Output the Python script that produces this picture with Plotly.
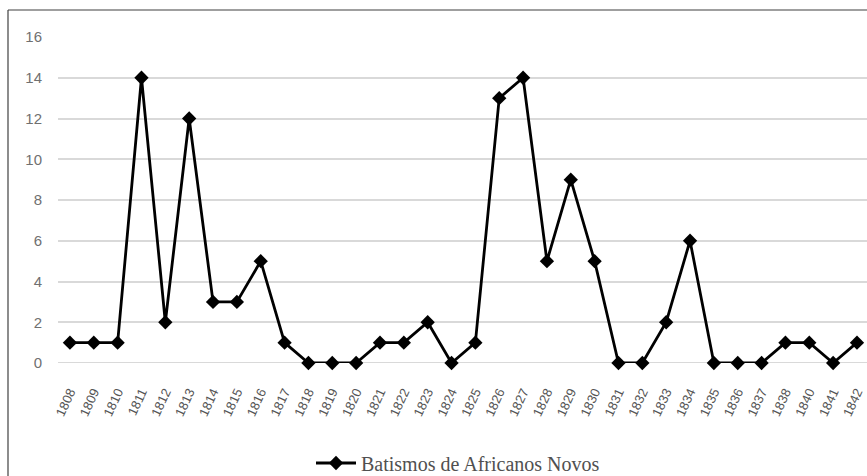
import plotly.graph_objects as go

years = ["1808","1809","1810","1811","1812","1813","1814","1815","1816","1817",
         "1818","1819","1820","1821","1822","1823","1824","1825","1826","1827",
         "1828","1829","1830","1831","1832","1833","1834","1835","1836","1837",
         "1838","1840","1841","1842"]
batismos = [1,1,1,14,2,12,3,3,5,1,
            0,0,0,1,1,2,0,1,13,14,
            5,9,5,0,0,2,6,0,0,0,
            1,1,0,1]
y_ticks = [0,2,4,6,8,10,12,14,16]
series_name = "Batismos de Africanos Novos"

W, H = 867, 476
L, T, B = 58, 37, 113
plot_w = W - L
plot_h = H - T - B

fig = go.Figure()
fig.add_trace(go.Scatter(
    x=list(range(len(years))), y=batismos, mode="lines+markers", name=series_name,
    line=dict(color="black", width=2.8),
    marker=dict(symbol="diamond", size=11, color="black"),
    cliponaxis=False,
))

fig.update_layout(
    width=W, height=H,
    margin=dict(l=L, r=0, t=T, b=B, pad=0),
    paper_bgcolor="white", plot_bgcolor="white",
    font=dict(family="Liberation Sans, sans-serif", color="#595959"),
    showlegend=True,
    legend=dict(orientation="h", xref="container", yref="container",
                x=311 / W, xanchor="left", y=(476 - 463) / H,
                yanchor="middle", font=dict(size=20, color="#505050", family="Liberation Serif, serif"),
                bgcolor="rgba(0,0,0,0)", itemwidth=40),
    xaxis=dict(
        range=[-0.5, 33.42], tickmode="array",
        tickvals=list(range(len(years))), ticktext=years,
        tickangle=-65, tickfont=dict(size=13, color="#555555"),
        showgrid=False, zeroline=False, showline=False, ticks="",
        ticklabelstandoff=18, automargin=False,
    ),
    yaxis=dict(
        range=[0, 16], tickvals=y_ticks, tickfont=dict(size=15, color="#707070"),
        showgrid=True, gridcolor="#d9d9d9", gridwidth=1.8,
        zeroline=False, showline=False, ticks="", ticklen=0,
        ticklabelstandoff=15, automargin=False,
    ),
    shapes=[dict(type="line", xref="paper", yref="paper",
                 x0=(8 - L) / plot_w, x1=1.2, y0=1 + (T - 10) / plot_h, y1=1 + (T - 10) / plot_h,
                 line=dict(color="#404040", width=1.2)),
            dict(type="line", xref="paper", yref="paper",
                 x0=(8 - L) / plot_w, x1=(8 - L) / plot_w, y0=-1, y1=1 + (T - 10) / plot_h,
                 line=dict(color="#404040", width=1.2)),
            dict(type="line", xref="paper", yref="y",
                 x0=0, x1=1, y0=0, y1=0, layer="below",
                 line=dict(color="#d9d9d9", width=1.8))],
)

fig.write_html("out.html", config={"displayModeBar": False},
               post_script="document.body.style.margin='0';document.body.style.overflow='hidden';")
